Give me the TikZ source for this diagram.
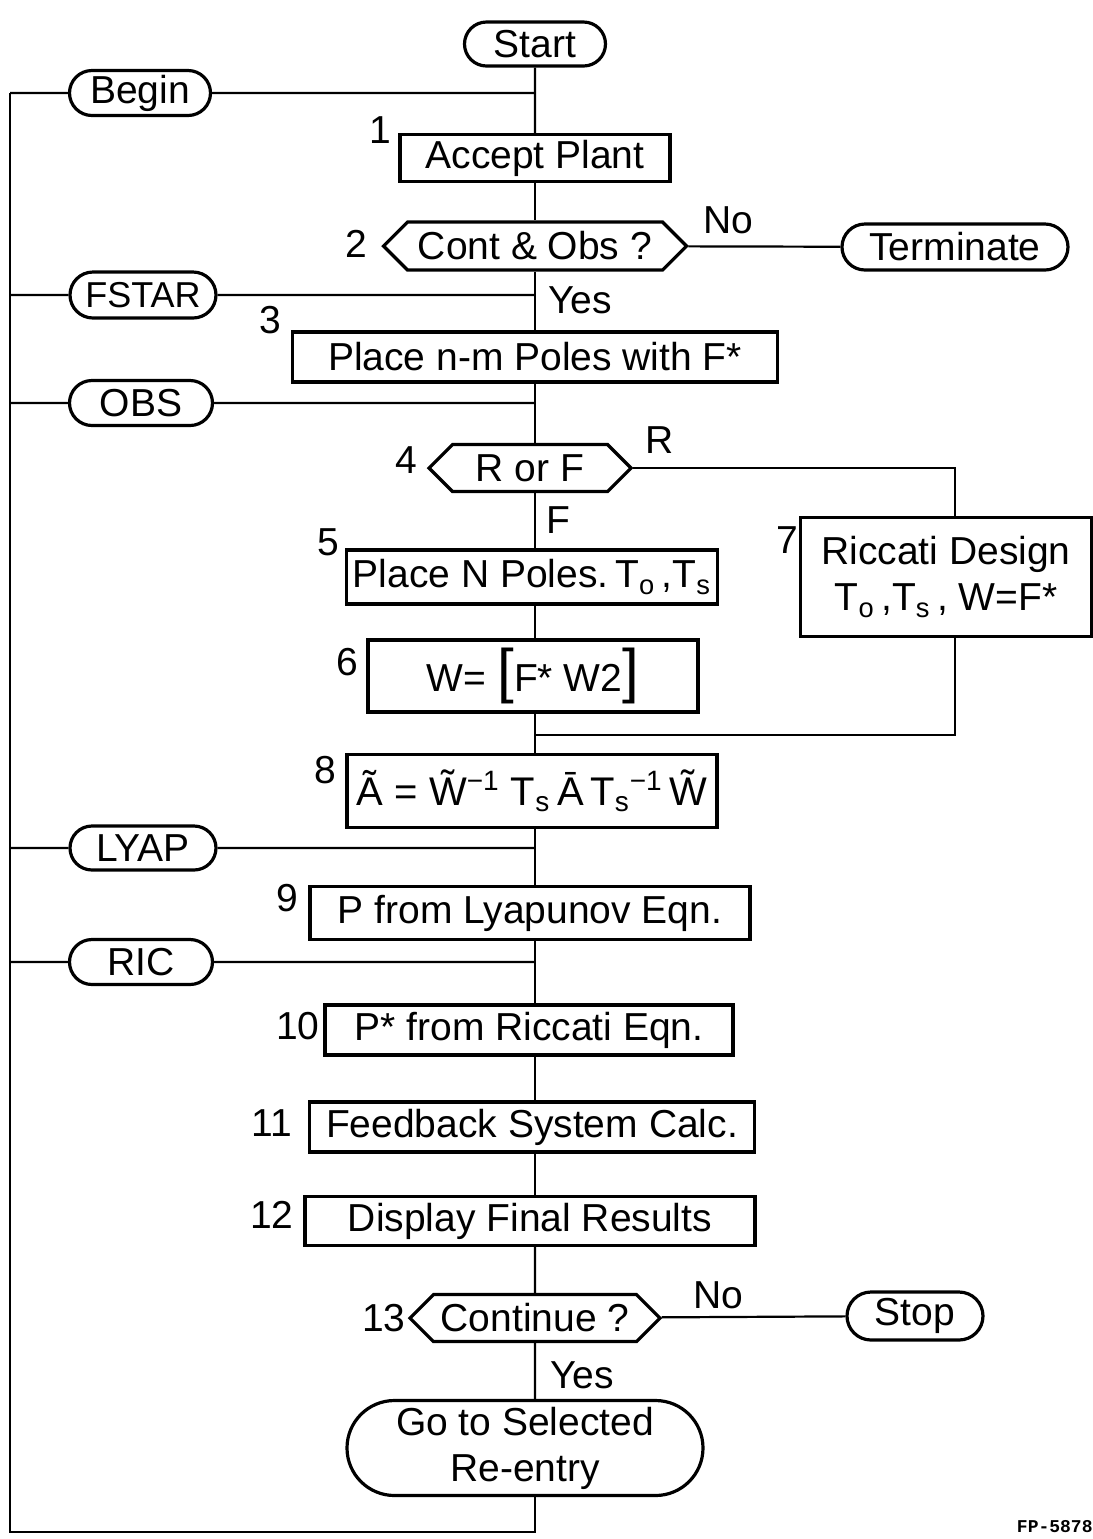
\documentclass[tikz,border=0pt]{standalone}
\usepackage{fontspec}
\setmainfont{Liberation Sans}
\setmonofont{Liberation Mono}
\usetikzlibrary{shapes.misc,shapes.symbols}
\begin{document}
\begin{tikzpicture}[x=0.5pt,y=-0.5pt,
  every node/.style={font=\fontsize{19.5}{23}\selectfont},
  conn/.style={line width=1.1pt},
  term/.style={draw,rounded rectangle,line width=1.6pt,inner xsep=1pt,inner ysep=0pt},
  stepbox/.style={draw,rectangle,line width=1.6pt,inner sep=0pt},
  decide/.style={draw,signal,signal to=west and east,signal pointer angle=90,line width=1.6pt,inner sep=0pt},
  num/.style={inner sep=0pt},
  lbl/.style={inner sep=0pt},
]
\useasboundingbox (0,0) rectangle (1093,1539);

% main column
\node[term,minimum width=72.5pt,minimum height=22pt] (start) at (535,44) {Start};
\node[stepbox,minimum width=135pt,minimum height=23.5pt] (b1) at (535,158) {Accept Plant};
\node[decide,minimum width=151.5pt,minimum height=24pt] (d2) at (535,246) {Cont \& Obs ?};
\node[term,minimum width=115pt,minimum height=23pt] (term) at (955,247) {Terminate};
\node[stepbox,minimum width=242.5pt,minimum height=25pt] (b3) at (535,357) {Place n-m Poles with F*};
\node[decide,minimum width=101pt,minimum height=23.5pt] (d4) at (530,468) {R or F};
\node[stepbox,minimum width=185.5pt,minimum height=27pt] (b5) at (532,577) {Place N Poles.\,T\textsubscript{o}\,,T\textsubscript{s}};
\node[stepbox,minimum width=145.5pt,minimum height=59.5pt,align=center] (b7) at (946,577) {Riccati Design\\T\textsubscript{o}\,,T\textsubscript{s}\,, W=F*};
\node[stepbox,minimum width=165pt,minimum height=36pt] (b6) at (533,676) {W= {\fontsize{30}{30}\selectfont[}F* W2{\fontsize{30}{30}\selectfont]}};
\node[stepbox,minimum width=185pt,minimum height=36.5pt,font=\fontsize{20}{24}\selectfont] (b8) at (532,791) {\~{A} = \~{W}\textsuperscript{−1} T\textsubscript{s}\,\={A}\,T\textsubscript{s}\textsuperscript{−1}\,\~{W}};
\node[stepbox,minimum width=220pt,minimum height=26.5pt] (b9) at (530,913) {P from Lyapunov Eqn.};
\node[stepbox,minimum width=204pt,minimum height=25pt] (b10) at (529,1030) {P* from Riccati Eqn.};
\node[stepbox,minimum width=222.5pt,minimum height=25pt] (b11) at (532,1127) {Feedback System Calc.};
\node[stepbox,minimum width=225pt,minimum height=24.5pt] (b12) at (530,1221) {Display Final Results};
\node[decide,minimum width=125pt,minimum height=23.5pt] (d13) at (535,1318) {Continue ?};
\node[term,minimum width=70pt,minimum height=24pt] (stop) at (915,1316) {Stop};
\node[term,minimum width=180pt,minimum height=47.5pt,align=center] (go) at (525,1448) {Go to Selected\\Re-entry};

% re-entry points
\node[term,minimum width=72.5pt,minimum height=22.5pt] (begin) at (140,93) {Begin};
\node[term,minimum width=75pt,minimum height=23pt,font=\fontsize{18}{22}\selectfont] (fstar) at (143,295) {FSTAR};
\node[term,minimum width=73.5pt,minimum height=22.5pt] (obs) at (141,403) {OBS};
\node[term,minimum width=75pt,minimum height=22pt] (lyap) at (143,848) {LYAP};
\node[term,minimum width=73.5pt,minimum height=22.5pt] (ric) at (141,962) {RIC};

% spine and junction coordinates
\coordinate (sp) at (535,0);
\coordinate (jb) at (535,93);
\coordinate (jf) at (535,295);
\coordinate (jo) at (535,403);
\coordinate (jl) at (535,848);
\coordinate (jr) at (535,962);
\coordinate (jm) at (535,735);
\coordinate (lb) at (10,93);
\coordinate (lf) at (10,295);
\coordinate (lo) at (10,403);
\coordinate (ll) at (10,848);
\coordinate (lr) at (10,962);
\coordinate (lbot) at (10,1532);
\coordinate (bot) at (535,1532);
\coordinate (rc) at (955,468);
\coordinate (rm) at (955,735);

% connectors along the spine
\draw[conn] (start) -- (sp |- b1.north);
\draw[conn] (sp |- b1.south) -- (sp |- d2.north);
\draw[conn] (sp |- d2.south) -- (sp |- b3.north);
\draw[conn] (sp |- b3.south) -- (sp |- d4.north);
\draw[conn] (sp |- d4.south) -- (sp |- b5.north);
\draw[conn] (sp |- b5.south) -- (sp |- b6.north);
\draw[conn] (sp |- b6.south) -- (sp |- b8.north);
\draw[conn] (sp |- b8.south) -- (sp |- b9.north);
\draw[conn] (sp |- b9.south) -- (sp |- b10.north);
\draw[conn] (sp |- b10.south) -- (sp |- b11.north);
\draw[conn] (sp |- b11.south) -- (sp |- b12.north);
\draw[conn] (sp |- b12.south) -- (d13);
\draw[conn] (d13) -- (sp |- go.north);
\draw[conn] (sp |- go.south) -- (bot) -- (lbot) -- (lb);
\draw[conn] (d2) -- (term);
\draw[conn] (d13) -- (stop);
\draw[conn] (d4.east) -- (rc) -- (rc |- b7.north);
\draw[conn] (rc |- b7.south) -- (rm) -- (jm);
\draw[conn] (lb) -- (begin) -- (jb);
\draw[conn] (lf) -- (fstar) -- (jf);
\draw[conn] (lo) -- (obs) -- (jo);
\draw[conn] (ll) -- (lyap) -- (jl);
\draw[conn] (lr) -- (ric) -- (jr);

% branch labels
\node[lbl] (no1) at (728,220) {No};
\node[lbl] (yes1) at (580,300) {Yes};
\node[lbl] (rl) at (660,440) {R};
\node[lbl] (fl) at (558,520) {F};
\node[lbl] (no2) at (718,1295) {No};
\node[lbl] (yes2) at (582,1375) {Yes};

% step numbers
\node[num] (n1) at (380,130) {1};
\node[num] (n2) at (356,244) {2};
\node[num] (n3) at (270,320) {3};
\node[num] (n4) at (406,460) {4};
\node[num] (n5) at (328,542) {5};
\node[num] (n6) at (347,662) {6};
\node[num] (n7) at (787,540) {7};
\node[num] (n8) at (325,770) {8};
\node[num] (n9) at (287,898) {9};
\node[num] (n10) at (298,1026) {10};
\node[num] (n11) at (272,1123) {11};
\node[num] (n12) at (272,1215) {12};
\node[num] (n13) at (384,1318) {13};

\node[anchor=east,inner sep=0pt,font=\fontsize{9}{10}\selectfont\ttfamily\bfseries] (fp) at (1093,1527) {FP-5878};
\end{tikzpicture}
\end{document}
